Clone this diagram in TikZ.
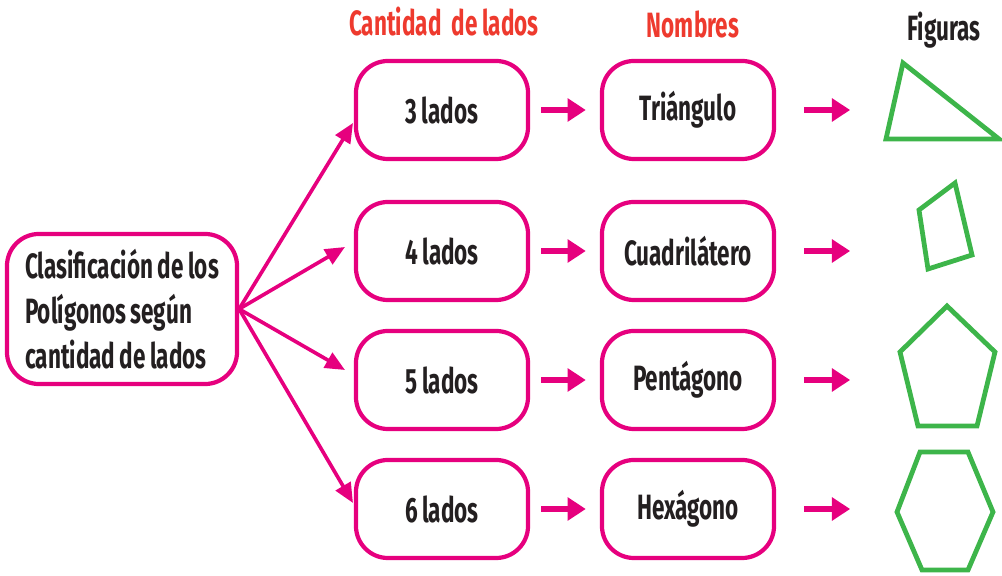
\documentclass[tikz,border=0pt]{standalone}
\usepackage{fontspec}
\setmainfont{Fira Sans}[FakeStretch=0.64, WordSpace=0.85]
\usetikzlibrary{arrows.meta}
\definecolor{rosa}{HTML}{E6007E}
\definecolor{rojo}{HTML}{EE3A2E}
\definecolor{verde}{HTML}{3DB54A}
\definecolor{tinta}{HTML}{231F20}
\tikzset{>=stealth,
  caja/.style={draw=rosa, line width=3pt, rounded corners=0.8cm, minimum width=4.3cm, minimum height=2.45cm, text=tinta, font=\fontsize{25}{30}\selectfont\bfseries},
  titulo/.style={text=rojo, font=\fontsize{25}{30}\selectfont\bfseries},
  flecha/.style={draw=rosa, line width=3.6pt, -{Triangle[length=13pt, width=16pt]}},
  rama/.style={draw=rosa, line width=2.6pt, -{Triangle[length=14pt, width=12pt]}},
  figura/.style={draw=verde, line width=3.4pt}}

\begin{document}
\begin{tikzpicture}[x=0.025cm, y=-0.025cm]
\useasboundingbox (0,0) rectangle (1002,576);
% titulos
\node[titulo] (tcant) at (444,22) {Cantidad\, de lados};
\node[titulo] (tnom) at (693,24) {Nombres};
\node[titulo, text=tinta] (tfig) at (944,30) {Figuras};
% caja principal
\node[caja, minimum width=5.75cm, minimum height=3.75cm, align=left] (clasif) at (122,309)
  {Clasificación de los\\[2pt] Polígonos según\\[2pt] cantidad de lados};
% cantidad de lados y nombres
\node[caja] (l3) at (442,110) {3 lados};
\node[caja] (l4) at (442,251) {4 lados};
\node[caja] (l5) at (442,380) {5 lados};
\node[caja] (l6) at (442,509) {6 lados};
\node[caja] (n3) at (688,110) {Triángulo};
\node[caja] (n4) at (688,251) {Cuadrilátero};
\node[caja] (n5) at (688,380) {Pentágono};
\node[caja] (n6) at (688,509) {Hexágono};
% ramas
\coordinate (c3) at (353,123);
\coordinate (c4) at (345,247);
\coordinate (c5) at (345,370);
\coordinate (c6) at (353,503);
\foreach \k in {3,4,5,6}
  \draw[rama] (clasif.east) -- (c\k);
% flechas
\foreach \k in {3,4,5,6} {
  \draw[flecha] ([xshift=8pt]l\k.east) -- ([xshift=-10pt]n\k.west);
  \coordinate (f\k) at ([xshift=1.85cm]n\k.east);
  \draw[flecha] ([xshift=20pt]n\k.east) -- (f\k);
}
% figuras
\draw[figura] (903,63) -- (886,139) -- (999,139) -- cycle;
\draw[figura] (955,183) -- (919,210) -- (928,269) -- (972,255) -- cycle;
\draw[figura] (947,306) -- (995,352) -- (977,426) -- (918,426) -- (900,352) -- cycle;
\draw[figura] (920,452) -- (968,452) -- (993,512) -- (968,570) -- (922,570) -- (897,512) -- cycle;
\end{tikzpicture}
\end{document}
